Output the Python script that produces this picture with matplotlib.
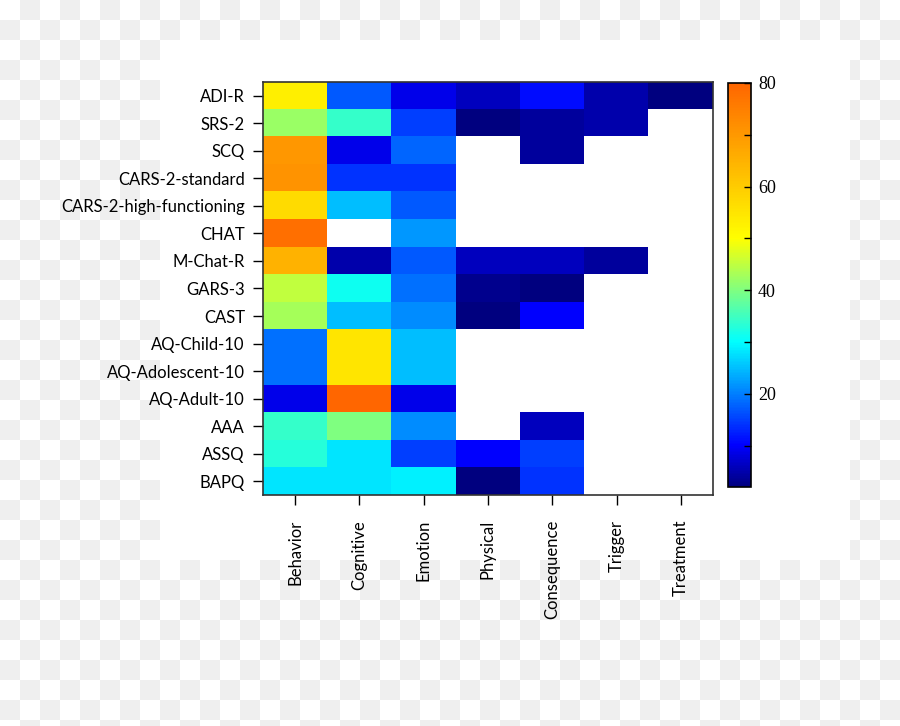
import numpy as np
import matplotlib
matplotlib.use("Agg")
import matplotlib.pyplot as plt
from matplotlib.colors import LinearSegmentedColormap
from matplotlib.patches import Rectangle

# instruments (rows) and domains (columns)
instruments = ['ADI-R', 'SRS-2', 'SCQ', 'CARS-2-standard', 'CARS-2-high-functioning',
               'CHAT', 'M-Chat-R', 'GARS-3', 'CAST', 'AQ-Child-10',
               'AQ-Adolescent-10', 'AQ-Adult-10', 'AAA', 'ASSQ', 'BAPQ']
domains = ['Behavior', 'Cognitive', 'Emotion', 'Physical', 'Consequence', 'Trigger', 'Treatment']

nan = np.nan
behavior    = [53, 42, 70, 71, 57, 78, 65, 45, 43, 19, 19, 9, 34, 33, 28]
cognitive   = [17, 34, 9, 14, 25, nan, 5, 31, 25, 55, 55, 80, 40, 28, 28]
emotion     = [9, 15, 18, 14, 17, 22, 17, 19, 21, 25, 25, 9, 21, 15, 29]
physical    = [6, 2, nan, nan, nan, nan, 6, 3, 2, nan, nan, nan, nan, 10, 2]
consequence = [11, 4, 4, nan, nan, nan, 6, 2, 10, nan, nan, nan, 6, 15, 14]
trigger     = [5, 5, nan, nan, nan, nan, 4, nan, nan, nan, nan, nan, nan, nan, nan]
treatment   = [2, nan, nan, nan, nan, nan, nan, nan, nan, nan, nan, nan, nan, nan, nan]

cbar_ticks = [20, 40, 60, 80]
vmin, vmax = 2, 80

values = np.column_stack([behavior, cognitive, emotion, physical,
                          consequence, trigger, treatment]).astype(float)

# jet-like scale that stops at orange
stops = [(2, '#00007f'), (10, '#0000ff'), (20, '#0080ff'), (30, '#00ffff'),
         (40, '#80ff80'), (50, '#ffff00'), (80, '#ff6600')]
cmap = LinearSegmentedColormap.from_list(
    'jetorange', [((v - vmin) / (vmax - vmin), c) for v, c in stops])
cmap.set_bad('white')

fig = plt.figure(figsize=(9, 7.26), dpi=100)

# checkerboard backdrop with white panel
bg = fig.add_axes([0, 0, 1, 1])
checker = (np.indices((37, 45)).sum(axis=0) % 2).astype(float)
bg.imshow(checker, cmap=LinearSegmentedColormap.from_list('chk', ['white', '#efefef']),
          extent=(0, 900, 740, 0), interpolation='nearest', aspect='auto')
bg.add_patch(Rectangle((160, 40), 690, 520, facecolor='white', edgecolor='none'))
bg.set_xlim(0, 900)
bg.set_ylim(726, 0)
bg.axis('off')

ax = fig.add_axes([0.2922, 0.3182, 0.5, 0.5689])
im = ax.imshow(values, cmap=cmap, vmin=vmin, vmax=vmax, aspect='auto',
               interpolation='nearest')
ax.set_xticks(range(len(domains)))
ax.set_xticklabels(domains, rotation=90, fontfamily='Lato', fontsize=12)
ax.set_yticks(range(len(instruments)))
ax.set_yticklabels(instruments, fontfamily='Lato', fontsize=12)
ax.tick_params(axis='y', length=7, width=1, pad=6)
ax.tick_params(axis='x', length=7, width=1, pad=11)
for s in ax.spines.values():
    s.set_linewidth(1.2)
    s.set_color('#333333')

cax = fig.add_axes([0.8089, 0.3292, 0.0256, 0.5565])
cb = fig.colorbar(im, cax=cax, ticks=cbar_ticks)
cb.ax.set_yticks([10, 30, 50, 70], minor=True)
cb.ax.tick_params(which='both', direction='in', length=5, width=1, pad=5)
cb.ax.set_yticklabels([str(t) for t in cbar_ticks], fontfamily='Liberation Serif', fontsize=13)
cb.outline.set_linewidth(1.2)

fig.savefig('out.png', dpi=100)
